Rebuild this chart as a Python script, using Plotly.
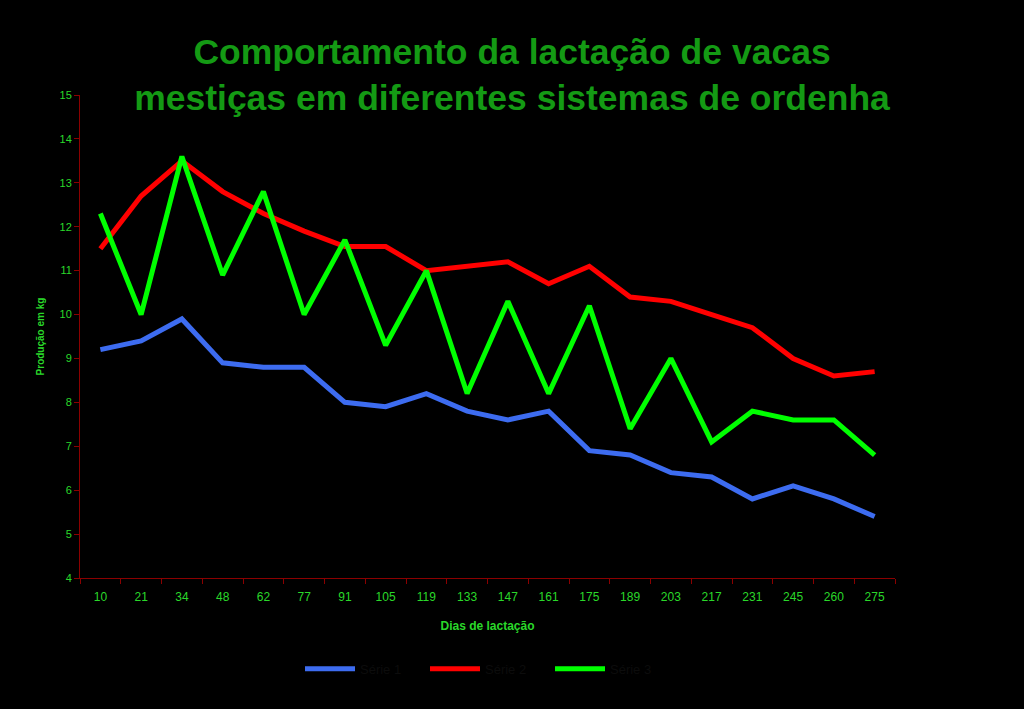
import plotly.graph_objects as go

dias = ['10', '21', '34', '48', '62', '77', '91', '105', '119', '133',
        '147', '161', '175', '189', '203', '217', '231', '245', '260', '275']

serie1 = [9.2, 9.4, 9.9, 8.9, 8.8, 8.8, 8.0, 7.9, 8.2, 7.8,
          7.6, 7.8, 6.9, 6.8, 6.4, 6.3, 5.8, 6.1, 5.8, 5.4]
serie2 = [11.5, 12.7, 13.5, 12.8, 12.3, 11.9, 11.55, 11.55, 11.0, 11.1,
          11.2, 10.7, 11.1, 10.4, 10.3, 10.0, 9.7, 9.0, 8.6, 8.7]
serie3 = [12.3, 10.0, 13.6, 10.9, 12.8, 10.0, 11.7, 9.3, 11.0, 8.2,
          10.3, 8.2, 10.2, 7.4, 9.0, 7.1, 7.8, 7.6, 7.6, 6.8]

nomes = ['Série 1', 'Série 2', 'Série 3']
cores = ['#3d6cf0', '#ff0000', '#00ff00']

fig = go.Figure()
for nome, cor, y in zip(nomes, cores, [serie1, serie2, serie3]):
	fig.add_trace(go.Scatter(x=dias,
	                         y=y,
	                         name=nome,
	                         mode='lines',
	                         line=dict(color=cor, width=5)))

fig.update_layout(title=dict(
                    text='<b>Comportamento da lactação de vacas<br>mestiças em diferentes sistemas de ordenha</b>',
                    x=0.5,
                    xanchor='center',
                    y=0.91,
                    yanchor='middle',
                    font=dict(family='Liberation Sans, Arial', size=35.5, color='#149a14')),
                legend=dict(
                    orientation='h',
                    x=0.5,
                    xanchor='center',
                    y=-0.157,
                    yanchor='top',
                    font=dict(family='Liberation Sans, Arial', size=13, color='#0c0c0c'),
                    itemwidth=50,
                    entrywidth=60,
                    entrywidthmode='pixels',
                ),
                showlegend=True,
                width=1024,
                height=709,
                paper_bgcolor='black',
                plot_bgcolor='black',
                font=dict(family='Liberation Sans, Arial', size=11, color='#2ad82a'),
                margin=dict(t=95, b=131, l=80, r=129))

fig.update_xaxes(type='category', range=[-0.5, len(dias) - 0.5],
                 showline=True, linecolor='#8b0000', linewidth=1,
                 ticks='outside', tickson='boundaries', tickcolor='#8b0000', ticklen=5,
                 ticklabelstandoff=8,
                 showgrid=False, zeroline=False,
                 tickfont=dict(family='Liberation Sans Narrow, Liberation Sans, Arial', size=12, color='#2ad82a'),
                 title=dict(text='<b>Dias de lactação</b>', standoff=18,
                            font=dict(family='Liberation Sans, Arial', size=12, color='#2ad82a')))
fig.update_yaxes(range=[4, 15], dtick=1,
                 showline=True, linecolor='#8b0000', linewidth=1,
                 ticks='outside', tickcolor='#8b0000', ticklen=5,
                 showgrid=False, zeroline=False,
                 tickfont=dict(family='Liberation Sans, Arial', size=11, color='#2ad82a'),
                 title=dict(text='<b>Produção em kg</b>', standoff=13,
                            font=dict(family='Liberation Sans, Arial', size=10, color='#2ad82a')))

fig.write_html("out.html",
               config={'displayModeBar': False},
               post_script="document.body.style.margin='0';document.body.style.background='black';")
